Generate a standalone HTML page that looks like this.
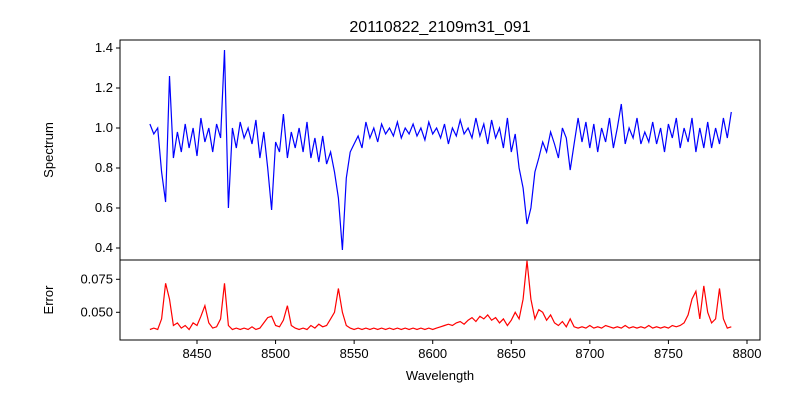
<!DOCTYPE html>
<html><head><meta charset="utf-8"><style>
body{margin:0;background:#fff;}
svg text{font-family:"Liberation Sans","DejaVu Sans",sans-serif;fill:#000;}
</style></head><body>
<svg id="chart" width="800" height="400" xmlns="http://www.w3.org/2000/svg">
<rect width="800" height="400" fill="#fff"/>
<text x="440" y="32" font-size="16" text-anchor="middle">20110822_2109m31_091</text>
<g id="axes"></g>
</svg>
<script>
const wavelengths = [];
for (let i = 0; i < 149; i++) wavelengths.push(8420 + 2.5 * i);
const spectrum = [1.02,0.97,1.0,0.78,0.63,1.26,0.85,0.98,0.88,1.02,0.9,1.0,0.86,1.05,0.93,1.0,0.88,1.02,0.95,1.39,0.6,1.0,0.9,1.03,0.95,1.0,0.92,1.04,0.85,0.98,0.8,0.59,0.93,0.88,1.07,0.85,0.98,0.9,1.0,0.88,1.03,0.85,0.95,0.83,0.96,0.82,0.88,0.78,0.65,0.39,0.75,0.88,0.92,0.96,0.9,1.03,0.95,1.0,0.93,1.02,0.97,1.0,0.96,1.03,0.95,1.0,0.97,1.02,0.96,1.0,0.94,1.03,0.97,1.0,0.95,1.02,0.92,1.0,0.96,1.04,0.97,1.0,0.95,1.05,0.96,1.02,0.92,1.04,0.95,1.0,0.9,1.05,0.88,0.97,0.8,0.7,0.52,0.6,0.78,0.85,0.93,0.88,0.98,0.92,0.85,1.0,0.95,0.79,0.92,1.05,0.93,1.03,0.9,1.02,0.88,1.0,0.93,1.05,0.9,1.0,1.12,0.92,1.0,0.95,1.05,0.92,0.98,0.93,1.03,0.92,1.0,0.88,1.02,0.95,1.05,0.9,1.0,0.93,1.05,0.88,1.0,0.9,1.03,0.9,1.0,0.92,1.05,0.95,1.08];
const errors = [0.037,0.038,0.037,0.045,0.072,0.06,0.04,0.042,0.038,0.04,0.037,0.042,0.04,0.047,0.055,0.042,0.038,0.039,0.045,0.072,0.04,0.037,0.038,0.037,0.038,0.037,0.039,0.037,0.038,0.042,0.046,0.047,0.04,0.039,0.044,0.055,0.04,0.038,0.037,0.038,0.037,0.04,0.038,0.041,0.039,0.04,0.045,0.05,0.068,0.05,0.04,0.038,0.037,0.038,0.037,0.038,0.037,0.038,0.037,0.038,0.037,0.038,0.037,0.038,0.037,0.038,0.037,0.038,0.037,0.038,0.037,0.038,0.037,0.038,0.039,0.04,0.041,0.04,0.042,0.043,0.041,0.044,0.046,0.043,0.047,0.045,0.048,0.044,0.046,0.042,0.045,0.04,0.044,0.05,0.045,0.06,0.089,0.06,0.045,0.052,0.05,0.044,0.048,0.042,0.04,0.043,0.039,0.045,0.039,0.038,0.039,0.038,0.04,0.038,0.039,0.038,0.04,0.039,0.038,0.039,0.038,0.04,0.038,0.039,0.038,0.039,0.038,0.04,0.038,0.039,0.038,0.039,0.038,0.04,0.039,0.04,0.042,0.048,0.06,0.066,0.045,0.07,0.05,0.042,0.045,0.068,0.045,0.038,0.039,0.037];
const xTicks = [8450,8500,8550,8600,8650,8700,8750,8800];
const specTicks = [0.4,0.6,0.8,1.0,1.2,1.4];
const errTicks = [0.050,0.075];

const NS = "http://www.w3.org/2000/svg";
const g = document.getElementById('axes');
const L = 120, R = 760, T1 = 40, B1 = 260, T2 = 260, B2 = 340;
const xs = w => 197 + (w - 8450) * 1.5714;
const ys = v => 248 - (v - 0.4) * 200;
const ye = v => 312.3 - (v - 0.05) * 1320;

function mk(tag, attrs) { const e = document.createElementNS(NS, tag); for (const k in attrs) e.setAttribute(k, attrs[k]); g.appendChild(e); return e; }

const p1 = mk('polyline', {points: wavelengths.map((w,i)=>xs(w).toFixed(1)+','+ys(spectrum[i]).toFixed(1)).join(' '), fill:'none', stroke:'#0000ff', 'stroke-width':1.2});


const p2 = mk('polyline', {points: wavelengths.map((w,i)=>xs(w).toFixed(1)+','+ye(errors[i]).toFixed(1)).join(' '), fill:'none', stroke:'#ff0000', 'stroke-width':1.2});



const f1 = mk('rect', {x:L, y:T1, width:R-L, height:B1-T1, fill:'none', stroke:'#000', 'stroke-width':1});


const f2 = mk('rect', {x:L, y:T2, width:R-L, height:B2-T2, fill:'none', stroke:'#000', 'stroke-width':1});



specTicks.forEach(v => {
  const y = ys(v);
  mk('line', {x1:L-4, x2:L, y1:y, y2:y, stroke:'#000'});
  const t = mk('text', {x:L-7, y:y+4, 'font-size':13, 'text-anchor':'end'});
  t.textContent = v.toFixed(1);
  
  
});
errTicks.forEach(v => {
  const y = ye(v);
  mk('line', {x1:L-4, x2:L, y1:y, y2:y, stroke:'#000'});
  const t = mk('text', {x:L-7, y:y+4, 'font-size':13, 'text-anchor':'end'});
  t.textContent = v.toFixed(3);
  
  
});
xTicks.forEach(w => {
  const x = xs(w);
  mk('line', {x1:x, x2:x, y1:B2, y2:B2+4, stroke:'#000'});
  const t = mk('text', {x:x, y:B2+18, 'font-size':13, 'text-anchor':'middle'});
  t.textContent = w;
  
  
});
const xl = mk('text', {x:440, y:380, 'font-size':13, 'text-anchor':'middle'});
xl.textContent = 'Wavelength';


const y1 = mk('text', {x:0, y:0, 'font-size':13, 'text-anchor':'middle', transform:'translate(53,150) rotate(-90)'});
y1.textContent = 'Spectrum';


const y2 = mk('text', {x:0, y:0, 'font-size':13, 'text-anchor':'middle', transform:'translate(53,300) rotate(-90)'});
y2.textContent = 'Error';


</script>
</body></html>
